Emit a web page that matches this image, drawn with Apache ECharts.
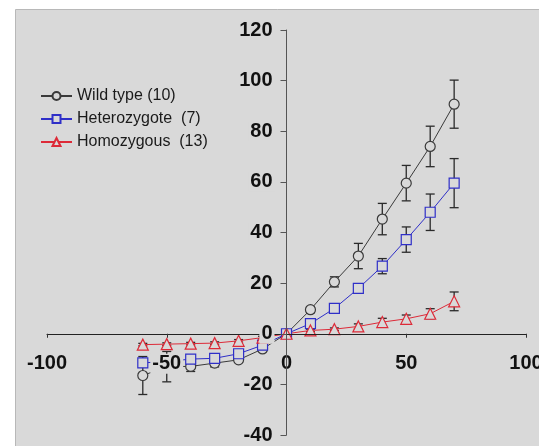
<!DOCTYPE html>
<html>
<head>
<meta charset="utf-8">
<script src="https://cdn.jsdelivr.net/npm/echarts@6/dist/echarts.min.js"></script>
<style>html,body{margin:0;padding:0;background:#fff;}#c{width:539px;height:446px;}</style>
</head>
<body>
<div id="c"></div>
<script>
// ---- data ----
const xValues = [-60, -50, -40, -30, -20, -10, 0, 10, 20, 30, 40, 50, 60, 70];
const wildMean = [-16.5, -13, -12.9, -11.6, -10.3, -6, 0, 9.5, 20.5, 30.7, 45.3, 59.5, 74, 90.7];
const wildErr  = [7.5, 6, 2, 1.5, 1, 1, 0, 1.2, 2, 5, 6.2, 7, 8, 9.5];
const hetMean  = [-11.5, -11, -10, -9.7, -7.9, -4.5, 0, 4, 10, 17.9, 26.7, 37.2, 48, 59.5];
const hetErr   = [1, 1, 1, 1, 1, 1, 0, 0.8, 0.8, 1, 3, 5, 7.2, 9.7];
const homMean  = [-4.3, -4.1, -3.9, -3.7, -2.8, -1.5, 0, 1.3, 1.8, 2.9, 4.6, 5.9, 7.9, 12.8];
const homErr   = [0.5, 0.5, 0.5, 0.5, 0.5, 0.5, 0, 0.5, 0.5, 1, 1.5, 1.5, 2, 3.7];
const seriesNames = ['Wild type (10)', 'Heterozygote  (7)', 'Homozygous  (13)'];
const xTicks = [-100, -50, 0, 50, 100];
const yTicks = [-40, -20, 0, 20, 40, 60, 80, 100, 120];

const BG = '#d9d9d9';
const FONT = 'Arial, "Liberation Sans", sans-serif';
const W = 539, H = 446;
const G = { left: 47, right: 13, top: 30, bottom: 11 };
const X_MIN = -100, X_MAX = 100, Y_MIN = -40, Y_MAX = 120;
// axes cross at zero: shift each axis inward from the grid edge to the zero line
const gridW = W - G.left - G.right, gridH = H - G.top - G.bottom;
const yAxisOffset = -gridW * (0 - X_MIN) / (X_MAX - X_MIN);
const xAxisOffset = -gridH * (0 - Y_MIN) / (Y_MAX - Y_MIN);

function pairs(means) { return xValues.map((x, i) => [x, means[i]]); }

function errSeries(means, errs) {
  return {
    type: 'custom', z: 1, silent: true,
    data: xValues.map((x, i) => [x, means[i] - errs[i], means[i] + errs[i]]),
    encode: { x: 0, y: [1, 2] },
    renderItem: function (params, api) {
      const x = api.value(0), lo = api.value(1), hi = api.value(2);
      if (hi === lo) return null;
      const p1 = api.coord([x, hi]), p2 = api.coord([x, lo]);
      const w = 4.5, st = { stroke: '#2a2a2a', lineWidth: 1.3 };
      return { type: 'group', children: [
        { type: 'line', shape: { x1: p1[0], y1: p1[1], x2: p2[0], y2: p2[1] }, style: st },
        { type: 'line', shape: { x1: p1[0] - w, y1: p1[1], x2: p1[0] + w, y2: p1[1] }, style: st },
        { type: 'line', shape: { x1: p2[0] - w, y1: p2[1], x2: p2[0] + w, y2: p2[1] }, style: st }
      ]};
    }
  };
}

function lineSeries(name, means, color, symbol, size) {
  return {
    type: 'line', name: name, z: 2, data: pairs(means),
    symbol: symbol, symbolSize: size, showAllSymbol: true,
    lineStyle: { color: color, width: 1 },
    itemStyle: { color: BG, borderColor: color, borderWidth: 1.2 },
    emphasis: { disabled: true }, animation: false
  };
}

const chart = echarts.init(document.getElementById('c'), null, { renderer: 'canvas' });
chart.setOption({
  backgroundColor: '#ffffff',
  animation: false,
  graphic: [{
    type: 'rect', z: -10, silent: true,
    shape: { x: 15.5, y: 9.5, width: 540, height: 450 },
    style: { fill: BG, stroke: '#b8b8b8', lineWidth: 1 }
  }],
  grid: { left: G.left, right: G.right, top: G.top, bottom: G.bottom, containLabel: false, outerBoundsMode: 'none' },
  legend: {
    orient: 'vertical', left: 40, top: 88, padding: 0,
    itemWidth: 31, itemHeight: 10, itemGap: 7,
    selectedMode: false,
    data: seriesNames,
    textStyle: { fontFamily: FONT, fontSize: 16, color: '#1a1a1a' }
  },
  xAxis: {
    type: 'value', min: X_MIN, max: X_MAX, interval: 50, z: 5,
    position: 'bottom', offset: xAxisOffset,
    axisLine: { onZero: false, lineStyle: { color: '#222', width: 1 } },
    axisTick: { show: true, length: 4, inside: false, lineStyle: { color: '#333' } },
    splitLine: { show: false },
    axisLabel: {
      margin: 20, fontFamily: FONT, fontSize: 20, fontWeight: 'bold', color: '#111',
      backgroundColor: BG, padding: [0, 2],
      showMinLabel: true, showMaxLabel: true, hideOverlap: false,
      formatter: v => xTicks.includes(v) ? String(v) : ''
    }
  },
  yAxis: {
    type: 'value', min: Y_MIN, max: Y_MAX, interval: 20, z: 6,
    position: 'left', offset: yAxisOffset,
    axisLine: { onZero: false, lineStyle: { color: '#555', width: 1 } },
    axisTick: { show: true, length: 6, inside: false, lineStyle: { color: '#555' } },
    splitLine: { show: false },
    axisLabel: {
      margin: 12, fontFamily: FONT, fontSize: 20, fontWeight: 'bold', color: '#111',
      backgroundColor: BG, padding: [0, 2],
      showMinLabel: true, showMaxLabel: true, hideOverlap: false,
      formatter: v => yTicks.includes(v) ? String(v) : ''
    }
  },
  series: [
    errSeries(wildMean, wildErr),
    errSeries(hetMean, hetErr),
    errSeries(homMean, homErr),
    lineSeries(seriesNames[0], wildMean, '#3a3a3a', 'circle', 10),
    lineSeries(seriesNames[1], hetMean, '#2f2fc8', 'rect', 10),
    lineSeries(seriesNames[2], homMean, '#dd2a38', 'triangle', 11)
  ]
});
</script>
</body>
</html>
